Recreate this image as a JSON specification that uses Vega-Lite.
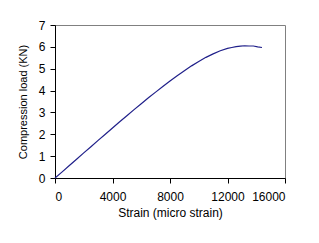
{
  "$schema": "https://vega.github.io/schema/vega-lite/v6.json",
  "width": 230,
  "height": 153,
  "autosize": "none",
  "padding": {"left": 55, "top": 25, "right": 34, "bottom": 65},
  "background": "white",
  "config": {
    "view": {"stroke": "#808080", "strokeWidth": 1},
    "font": "Liberation Sans",
    "axis": {
      "grid": false,
      "domainColor": "#000000",
      "tickColor": "#000000",
      "tickSize": 5,
      "labelFont": "Liberation Sans",
      "labelFontSize": 12,
      "labelColor": "#000000",
      "titleFont": "Liberation Sans",
      "titleFontSize": 12,
      "titleFontWeight": "normal",
      "titleColor": "#000000"
    }
  },
  "data": {
    "values": [
      {"strain": 0, "load": 0},
      {"strain": 500, "load": 0.28},
      {"strain": 1000, "load": 0.57},
      {"strain": 1500, "load": 0.86},
      {"strain": 2000, "load": 1.15},
      {"strain": 2500, "load": 1.43},
      {"strain": 3000, "load": 1.72},
      {"strain": 3500, "load": 2.0},
      {"strain": 4000, "load": 2.29},
      {"strain": 4500, "load": 2.57},
      {"strain": 5000, "load": 2.85},
      {"strain": 5500, "load": 3.13},
      {"strain": 6000, "load": 3.4},
      {"strain": 6500, "load": 3.67},
      {"strain": 7000, "load": 3.93},
      {"strain": 7500, "load": 4.19},
      {"strain": 8000, "load": 4.44},
      {"strain": 8500, "load": 4.68},
      {"strain": 9000, "load": 4.91},
      {"strain": 9500, "load": 5.13},
      {"strain": 10000, "load": 5.33},
      {"strain": 10500, "load": 5.52},
      {"strain": 11000, "load": 5.68},
      {"strain": 11500, "load": 5.82},
      {"strain": 12000, "load": 5.93},
      {"strain": 12300, "load": 5.97},
      {"strain": 12600, "load": 6.01},
      {"strain": 12900, "load": 6.03},
      {"strain": 13200, "load": 6.05},
      {"strain": 13500, "load": 6.04},
      {"strain": 13800, "load": 6.04},
      {"strain": 14100, "load": 6.0},
      {"strain": 14400, "load": 5.97}
    ]
  },
  "mark": {"type": "line", "color": "#20208a", "strokeWidth": 1.2},
  "encoding": {
    "x": {
      "field": "strain",
      "type": "quantitative",
      "scale": {"domain": [0, 16000], "nice": false, "zero": true},
      "axis": {"values": [0, 4000, 8000, 12000, 16000], "title": "Strain (micro strain)", "labelPadding": 8, "titlePadding": 5, "format": "d"}
    },
    "y": {
      "field": "load",
      "type": "quantitative",
      "scale": {"domain": [0, 7], "nice": false},
      "axis": {"values": [0, 1, 2, 3, 4, 5, 6, 7], "title": "Compression load (KN)", "titleFontSize": 11, "labelPadding": 5, "titlePadding": 10}
    }
  }
}
